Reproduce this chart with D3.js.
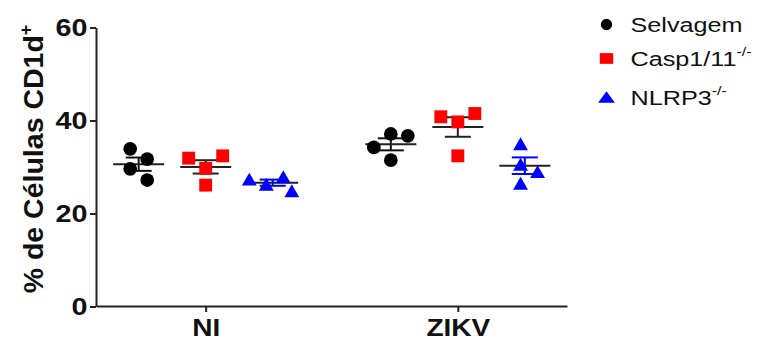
<!DOCTYPE html>
<html>
<head>
<meta charset="utf-8">
<script src="https://cdn.jsdelivr.net/npm/d3@7"></script>
<style>
  body { margin: 0; background: #fff; }
  svg { display: block; }
  text { font-family: "Liberation Sans", Arial, Helvetica, sans-serif; }
</style>
</head>
<body>
<svg id="chart" width="766" height="343"></svg>
<script>
// Categories and series
const groups = ["NI", "ZIKV"];
const seriesNames = ["Selvagem", "Casp1/11", "NLRP3"];
const seriesSup = ["", "-/-", "-/-"];

// Individual values (% CD1d+ cells), one array per group within each series
const selvagem = [[33.9, 31.7, 29.6, 27.2], [37.1, 36.7, 34.2, 31.5]];
const casp1_11 = [[29.7, 32.4, 31.9, 26.1], [39.7, 41.5, 40.8, 32.4]];
const nlrp3    = [[26.3, 27.9, 27.4, 24.9], [35.0, 30.6, 29.0, 26.5]];

const yTicks = [0, 20, 40, 60];

const seriesValues = [selvagem, casp1_11, nlrp3];
const pointColors = ["#000000", "#ff0000", "#0000ff"];
const semColors = ["#111111", "#222222", "#0000ff"];

const svg = d3.select("#chart");

const y = d3.scaleLinear().domain([0, 60]).range([306.5, 27.5]);
const x = d3.scalePoint().domain(groups).range([96.5, 567]).padding(0.433);
const xs = d3.scalePoint().domain(seriesNames).range([-67, 67]);

// Triangle centred on its bounding box
const triangleBox = {
  draw(ctx, size) {
    const w = Math.sqrt(size * 4 / Math.sqrt(3));
    const h = w * Math.sqrt(3) / 2;
    ctx.moveTo(0, -h / 2);
    ctx.lineTo(w / 2, h / 2);
    ctx.lineTo(-w / 2, h / 2);
    ctx.closePath();
  }
};
const symbolTypes = [d3.symbolCircle, d3.symbolSquare, triangleBox];
const symbolSizes = [148, 166, 96];

// Simple swarm: place each point at the nearest free slot to the centre line
function swarm(pys, step, minDist) {
  const placed = [];
  pys.forEach(py => {
    for (let k = 0; k < 50; k++) {
      const cands = k === 0 ? [0] : [k * step, -k * step];
      const hit = cands.find(cx => placed.every(p => Math.hypot(p.x - cx, p.y - py) >= minDist));
      if (hit !== undefined) { placed.push({ x: hit, y: py }); break; }
    }
  });
  const m = d3.mean(placed, p => p.x);
  return placed.map(p => p.x - m);
}

// Axes
const yAxis = svg.append("g")
  .attr("transform", "translate(96,0)")
  .call(d3.axisLeft(y).tickValues(yTicks).tickSize(6).tickSizeOuter(0));
yAxis.select(".domain").attr("stroke", "#222").attr("stroke-width", 2);
yAxis.selectAll(".tick line").attr("stroke", "#222").attr("stroke-width", 2);
yAxis.selectAll(".tick text")
  .attr("x", -6.8).attr("dy", "0.36em")
  .attr("transform", "scale(1.25,1)")
  .attr("font-size", 23).attr("font-weight", "bold").attr("fill", "#111")
  .style("font-family", "'Liberation Sans', Arial, sans-serif");

const xAxis = svg.append("g")
  .attr("transform", "translate(0,306)")
  .call(d3.axisBottom(x).tickSize(6).tickSizeOuter(0));
xAxis.select(".domain").attr("stroke", "#222").attr("stroke-width", 2);
xAxis.selectAll(".tick line").attr("stroke", "#222").attr("stroke-width", 2);
xAxis.selectAll(".tick text")
  .attr("y", 14).attr("dy", "0.71em")
  .attr("transform", "scale(1.22,1)")
  .attr("font-size", 23).attr("font-weight", "bold").attr("fill", "#111")
  .style("font-family", "'Liberation Sans', Arial, sans-serif");

// Y axis title
const yTitle = svg.append("text")
  .attr("transform", "translate(43,159) rotate(-90)")
  .attr("text-anchor", "middle")
  .attr("font-size", 28.5).attr("font-weight", "bold").attr("fill", "#111");
yTitle.append("tspan").text("% de Células CD1d");
yTitle.append("tspan").attr("font-size", 18).attr("dy", "-0.6em").text("+");

// Mean ± SEM bars, then the individual points
const plot = svg.append("g");
seriesValues.forEach((series, si) => {
  const name = seriesNames[si];
  series.forEach((vals, gi) => {
    const cx = x(groups[gi]) + xs(name);
    const mean = d3.mean(vals);
    const sem = d3.deviation(vals) / Math.sqrt(vals.length);
    const eb = plot.append("g");
    // stem
    eb.append("line")
      .attr("x1", cx).attr("x2", cx)
      .attr("y1", y(mean - sem)).attr("y2", y(mean + sem))
      .attr("stroke", semColors[si]).attr("stroke-width", 2);
    // caps
    [mean - sem, mean + sem].forEach(v => {
      eb.append("line")
        .attr("x1", cx - 13).attr("x2", cx + 13)
        .attr("y1", y(v)).attr("y2", y(v))
        .attr("stroke", semColors[si]).attr("stroke-width", 2);
    });
    // mean
    eb.append("line")
      .attr("x1", cx - 25.5).attr("x2", cx + 25.5)
      .attr("y1", y(mean)).attr("y2", y(mean))
      .attr("stroke", "#222").attr("stroke-width", 2);

    const offs = swarm(vals.map(v => y(v)), 8.5, 16);
    plot.append("g").selectAll("path")
      .data(vals)
      .join("path")
      .attr("transform", (v, i) => `translate(${cx + offs[i]},${y(v)})`)
      .attr("d", d3.symbol().type(symbolTypes[si]).size(symbolSizes[si]))
      .attr("fill", pointColors[si]);
  });
});

// Legend
const legendRows = [24.5, 58.5, 97];
const legendSymbolSizes = [100, 115, 78];
const legend = svg.append("g");
seriesNames.forEach((name, si) => {
  const row = legend.append("g").attr("transform", `translate(606.5,${legendRows[si]})`);
  row.append("path")
    .attr("transform", si === 0 ? null : "scale(1.25,1)")
    .attr("d", d3.symbol().type(symbolTypes[si]).size(legendSymbolSizes[si]))
    .attr("fill", pointColors[si]);
  const t = row.append("text")
    .attr("transform", "translate(24,0) scale(1.2,1)")
    .attr("dy", "0.37em")
    .attr("font-size", 21).attr("fill", "#111");
  t.append("tspan").text(name);
  if (seriesSup[si]) {
    t.append("tspan").attr("font-size", 13.5).attr("dy", "-0.75em").text(seriesSup[si]);
  }
});
</script>
</body>
</html>
